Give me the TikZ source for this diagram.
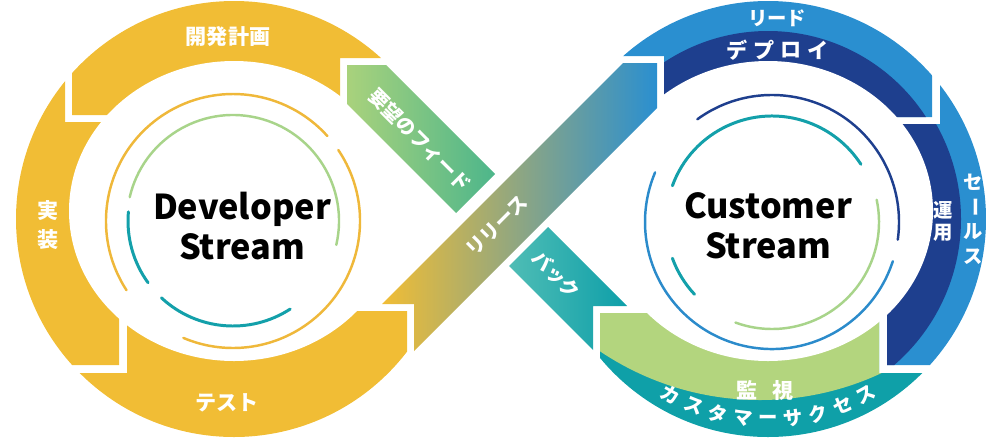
\documentclass[tikz,border=0pt]{standalone}
\usepackage{fontspec}
\setmainfont{Noto Sans CJK JP}
\definecolor{ylw}{HTML}{F1BD35}
\definecolor{lblue}{HTML}{2A8FD0}
\definecolor{navyb}{HTML}{1E3F8E}
\definecolor{tealb}{HTML}{0FA0A8}
\definecolor{lgreen}{HTML}{B3D57E}
\definecolor{relmid}{HTML}{C4B07C}
\definecolor{fbA}{HTML}{A9D27C}
\definecolor{fbB}{HTML}{4DB68B}
\definecolor{bkA}{HTML}{4FBDB5}
\definecolor{bkB}{HTML}{0E9FA9}
\definecolor{dyel}{HTML}{EFB83A}
\definecolor{dgreen}{HTML}{A8D48A}
\definecolor{dteal}{HTML}{13A0AA}
\definecolor{dblue}{HTML}{2B8BCB}
\newcommand\jpsize[1]{\fontsize{#1}{#1}\selectfont}
\begin{document}
\begin{tikzpicture}[x=0.02cm,y=-0.02cm,
  lbl/.style={text=white,inner sep=0pt,font=\bfseries\jpsize{12}},
  slbl/.style={text=white,inner sep=0pt,font=\bfseries\jpsize{11}},
  deco/.style={line width=1.4pt,line cap=round},
  title/.style={align=center,inner sep=0pt,font=\bfseries\fontsize{19.5}{22.5}\selectfont}]
\useasboundingbox (0,0) rectangle (986,440);

% ---------------- left ring ----------------
\begin{scope}
  \clip (72,115) -- (72,-20) -- (500,-20) -- (500,58) -- (340,58) -- (340,115) -- cycle;
  \fill[ylw] (234,219) circle[radius=218];
\end{scope}
\begin{scope}
  \clip (-20,-20) -- (65,-20) -- (65,122) -- (119,122) -- (119,365) -- (-20,365) -- cycle;
  \fill[ylw] (234,219) circle[radius=218];
\end{scope}
\begin{scope}
  \clip (-20,373) -- (127,373) -- (127,311) -- (407,311) -- (407,460) -- (-20,460) -- cycle;
  \fill[ylw] (234,219) circle[radius=218];
\end{scope}
\fill[white] (234,211) ellipse[x radius=165,y radius=150];

% ---------------- right ring ----------------
\begin{scope}
  \clip (500,-20) -- (932,-20) -- (932,117) -- (664,117) -- (664,56) -- (500,56) -- cycle;
  \fill[lblue] (768,219) circle[radius=218];
  \fill[navyb] (768,219) circle[radius=188];
\end{scope}
\begin{scope}
  \clip (940,-20) -- (1100,-20) -- (1100,365) -- (887,365) -- (887,124) -- (940,124) -- cycle;
  \fill[lblue] (768,219) circle[radius=218];
  \fill[navyb] (768,219) circle[radius=193];
\end{scope}
\begin{scope}
  \clip (600,313) -- (879,313) -- (879,373) -- (1100,373) -- (1100,460) -- (600,460) -- cycle;
  \fill[tealb] (768,219) circle[radius=218];
  \fill[lgreen] (760,113) circle[radius=287];
\end{scope}
\fill[white] (768,211) ellipse[x radius=165,y radius=150];

% ---------------- crossing bands ----------------
\shade[left color=fbA,right color=fbB] (347,65) -- (386,65) -- (495,174) -- (456,213) -- (347,104) -- cycle;
\shade[left color=bkA,right color=bkB] (509,266) -- (548,227) -- (627,306) -- (593,306) -- (593,350) -- cycle;
\shade[left color=ylw,middle color=relmid,right color=lblue] (382,304) -- (623,63) -- (657,63) -- (657,108) -- (414,351) -- (414,304) -- cycle;

% ---------------- inner decorations left ----------------
\draw[deco,dyel] (233,221) ++(147:127) arc[start angle=147,end angle=318,radius=127];
\draw[deco,dyel] (233,221) ++(326:127) arc[start angle=326,end angle=473,radius=127];
\draw[deco,dgreen] (233,221) ++(193:106) arc[start angle=193,end angle=373,radius=106];
\draw[deco,dteal,line width=1.7pt] (233,221) ++(144:105) arc[start angle=144,end angle=185,radius=105];
\draw[deco,dteal,line width=1.7pt] (233,221) ++(57:105) arc[start angle=57,end angle=133,radius=105];

% ---------------- inner decorations right ----------------
\draw[deco,navyb] (772,222) ++(234:127) arc[start angle=234,end angle=368,radius=127];
\draw[deco,dblue] (772,222) ++(18:127) arc[start angle=18,end angle=203,radius=127];
\draw[deco,dteal,line width=1.7pt] (772,222) ++(200:106) arc[start angle=200,end angle=327,radius=106];
\draw[deco,dteal,line width=1.7pt] (772,222) ++(137:106) arc[start angle=137,end angle=160,radius=106];
\draw[deco,dgreen] (772,222) ++(-12:107) arc[start angle=-12,end angle=110,radius=107];

% ---------------- titles ----------------
\node[title] (dev) at (242,226) {Developer\\Stream};
\node[title] (cus) at (768,226) {Customer\\Stream};

% ---------------- labels left ----------------
\node[lbl] (plan) at (228,37) {開発計画};
\node[lbl] (impl1) at (48,211) {実};
\node[lbl] (impl2) at (48,240) {装};
\node[lbl] (test) at (227,403) {テスト};

% ---------------- band labels ----------------
\node[slbl,rotate=-45] (feed) at (420,140) {要望のフィード};
\node[slbl,rotate=45] (rel) at (497,226) {リリース};
\node[slbl,rotate=-45] (back) at (556,275) {バック};

% ---------------- labels right ----------------
\node[slbl] (lead) at (777,18) {リード};
\foreach \ch/\xx [count=\i] in {デ/737,プ/764,ロ/791,イ/818}
  \node[lbl] (dep\i) at (\xx,50) {\ch};
\node[slbl] (sa1) at (973,182) {セ};
\node[slbl,rotate=-90] (sa2) at (973,207) {ー};
\node[slbl] (sa3) at (973,232) {ル};
\node[slbl] (sa4) at (973,257) {ス};
\node[slbl] (op1) at (943,210) {運};
\node[slbl] (op2) at (943,233) {用};
\node[lbl] (mon1) at (747,390) {監};
\node[lbl] (mon2) at (783,390) {視};
\foreach \ch [count=\i from 0] in {カ,ス,タ,マ,ー,サ,ク,セ,ス} {
  \pgfmathsetmacro\ang{119-\i*7.25}
  \pgfmathsetmacro\rot{90-\ang}
  \node[slbl,rotate=\rot] (cs\i) at ([shift={(\ang:201)}]768,219) {\ch};
}
\end{tikzpicture}
\end{document}
